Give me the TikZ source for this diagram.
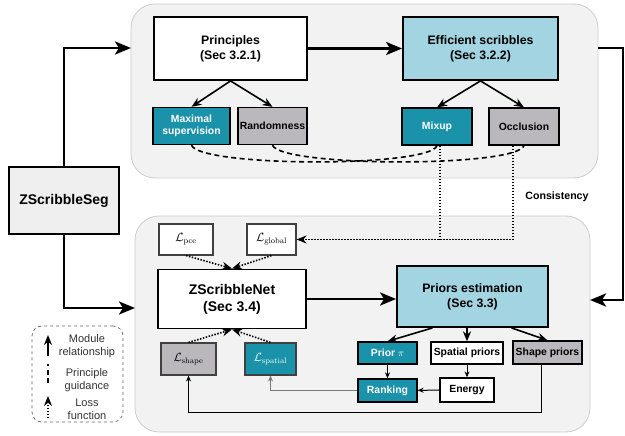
\documentclass[tikz,border=0pt]{standalone}
\usepackage[no-math]{fontspec}
\setmainfont{Liberation Sans}
\usetikzlibrary{arrows.meta}
\definecolor{panelfill}{HTML}{F2F2F2}
\definecolor{panelline}{HTML}{CCCCCC}
\definecolor{segfill}{HTML}{EFEFEF}
\definecolor{skyfill}{HTML}{A2D4E2}
\definecolor{tealfill}{HTML}{1A92A9}
\definecolor{greyfill}{HTML}{BAB8BC}
\definecolor{linkgrey}{HTML}{777777}
\begin{document}
\begin{tikzpicture}[x=1pt,y=-1pt,
  panel/.style={draw=panelline,fill=panelfill,line width=0.8pt,rounded corners=24pt},
  bigbox/.style={draw,line width=1.8pt,align=center,inner sep=0pt,font=\bfseries\fontsize{12.3}{15}\selectfont},
  subbox/.style={draw,line width=1.3pt,align=center,inner sep=0pt,font=\bfseries\fontsize{10.4}{12.5}\selectfont},
  lossbox/.style={draw=black!75,line width=1.1pt,inner sep=0pt,font=\fontsize{12}{14}\selectfont},
  mainflow/.style={line width=2.8pt,-{Stealth[length=16pt,width=13pt,inset=4pt]}},
  subflow/.style={line width=1.6pt,-{Stealth[length=10pt,width=8pt]}},
  thinflow/.style={line width=1pt,-{Stealth[length=6pt,width=5pt]}},
  guide/.style={line width=1.6pt,dash pattern=on 5pt off 3.5pt},
  lossline/.style={line width=1.6pt,dash pattern=on 1.5pt off 1.5pt},
  lossflow/.style={lossline,-{Stealth[length=10pt,width=8pt]}},
  keytext/.style={align=center,text=black!80,font=\fontsize{11}{13}\selectfont}
]
\useasboundingbox (0,0) rectangle (625,436);

% the two stages
\draw[panel] (131,4) rectangle (598,178);
\draw[panel] (135,216) rectangle (590,432);

% stage one: scribble generation
\node[bigbox,fill=white,minimum width=153,minimum height=63] (princ) at (230.5,48.5) {Principles\\(Sec 3.2.1)};
\node[bigbox,fill=skyfill,minimum width=155,minimum height=63] (eff) at (480.5,48.5) {Efficient scribbles\\(Sec 3.2.2)};
\node[subbox,fill=tealfill,text=white,minimum width=77,minimum height=37] (maxsup) at (191.5,126) {Maximal\\supervision};
\node[subbox,fill=greyfill,minimum width=69,minimum height=37] (rand) at (272.5,126) {Randomness};
\node[subbox,fill=tealfill,text=white,minimum width=70,minimum height=37] (mixup) at (437,126.5) {Mixup};
\node[subbox,fill=greyfill,minimum width=70,minimum height=37] (occl) at (524,126.5) {Occlusion};

\node[bigbox,fill=segfill,minimum width=110,minimum height=67,font=\bfseries\fontsize{14}{16}\selectfont] (seg) at (64,200.5) {ZScribbleSeg};

% stage two: network and priors
\node[lossbox,fill=white,minimum width=54,minimum height=31] (lpce) at (186,239.5) {$\mathcal{L}_{\mathrm{pce}}$};
\node[lossbox,fill=white,minimum width=49,minimum height=31] (lglob) at (271.5,239.5) {$\mathcal{L}_{\mathrm{global}}$};
\node[bigbox,fill=white,minimum width=148,minimum height=59,font=\bfseries\fontsize{14}{17}\selectfont] (znet) at (232,299) {ZScribbleNet\\(Sec 3.4)};
\node[lossbox,fill=greyfill,minimum width=55,minimum height=32] (lshape) at (188.5,359) {$\mathcal{L}_{\mathrm{shape}}$};
\node[lossbox,fill=tealfill,text=white,minimum width=51,minimum height=32] (lspat) at (270.5,359) {$\mathcal{L}_{\mathrm{spatial}}$};
\node[bigbox,fill=skyfill,minimum width=151,minimum height=61] (priors) at (472.5,296.5) {Priors estimation\\(Sec 3.3)};
\node[subbox,fill=tealfill,text=white,minimum width=59,minimum height=22] (prior) at (387.5,353) {Prior $\pi$};
\node[subbox,fill=white,minimum width=72,minimum height=22] (spatial) at (467,353) {Spatial priors};
\node[subbox,fill=greyfill,minimum width=69,minimum height=23] (shape) at (547.5,352.5) {Shape priors};
\node[subbox,fill=tealfill,text=white,minimum width=59,minimum height=23] (rank) at (387.5,390.5) {Ranking};
\node[subbox,fill=white,minimum width=54,minimum height=24] (energy) at (467,390) {Energy};

\node[font=\bfseries\fontsize{10.6}{12.5}\selectfont] (consist) at (557,197) {Consistency};

% main flow
\coordinate (topin) at (131,48);
\coordinate (topout) at (598,48);
\coordinate (botin) at (590,300);
\coordinate (botinL) at (135,308);
\draw[mainflow] (seg.north) |- (topin);
\draw[mainflow] (seg.south) |- (botinL);
\draw[mainflow] (princ) -- (eff);
\draw[mainflow] (topout) -- ++(25,0) |- (botin);
\draw[mainflow] (znet.east) -- (znet.east -| priors.west);

\draw[subflow] (princ.south) -- (maxsup.north);
\draw[subflow] (princ.south) -- (rand.north);
\draw[subflow] (eff.south) -- (mixup.north);
\draw[subflow] (eff.south) -- (occl.north);

% principle guidance
\draw[guide] (maxsup.south) .. controls +(8,22) and +(-8,22) .. (mixup.south);
\draw[guide] (rand.south) .. controls +(8,22) and +(-8,22) .. (occl.south);

% consistency loss
\coordinate (mixdot) at ([xshift=3]mixup.south);
\coordinate (occdot) at ([xshift=-11]occl.south);
\draw[lossline] (mixdot) -- (mixdot |- lglob.east);
\draw[lossflow] (occdot) |- (lglob.east);

\draw[lossflow] (lpce.south) -- (znet.north);
\draw[lossflow] (lglob.south) -- (znet.north);
\draw[lossflow] (lshape.north) -- (znet.south);
\draw[lossflow] (lspat.north) -- (znet.south);

% priors
\draw[subflow] ([xshift=-40]priors.south) -- (prior.north);
\draw[subflow] (spatial.north |- priors.south) -- (spatial.north);
\draw[subflow] ([xshift=39]priors.south) -- (shape.north);
\draw[thinflow] (prior) -- (rank);
\draw[thinflow] (spatial) -- (energy);
\draw[thinflow] (energy) -- (rank);
\draw[thinflow,linkgrey] (rank.west) -| (lspat.south);
\draw[thinflow] ([xshift=-6]shape.south) -- ++(0,48) -| (lshape.south);

% legend
\node[draw=black!60,dashed,line width=0.7pt,rounded corners=10pt,minimum width=91,minimum height=96] (legend) at (77.5,374) {};
\node[keytext] (key1) at (87,346.5) {Module\\relationship};
\node[keytext] (key2) at (87,380) {Principle\\guidance};
\node[keytext] (key3) at (87,409) {Loss\\function};
\coordinate (k1a) at (48,356);
\coordinate (k1b) at (48,335);
\coordinate (k2a) at (48,383);
\coordinate (k2b) at (48,364);
\coordinate (k3a) at (48,418);
\coordinate (k3b) at (48,396);
\draw[subflow] (k1a) -- (k1b);
\draw[guide] (k2a) -- (k2b);
\draw[lossflow] (k3a) -- (k3b);
\end{tikzpicture}
\end{document}
